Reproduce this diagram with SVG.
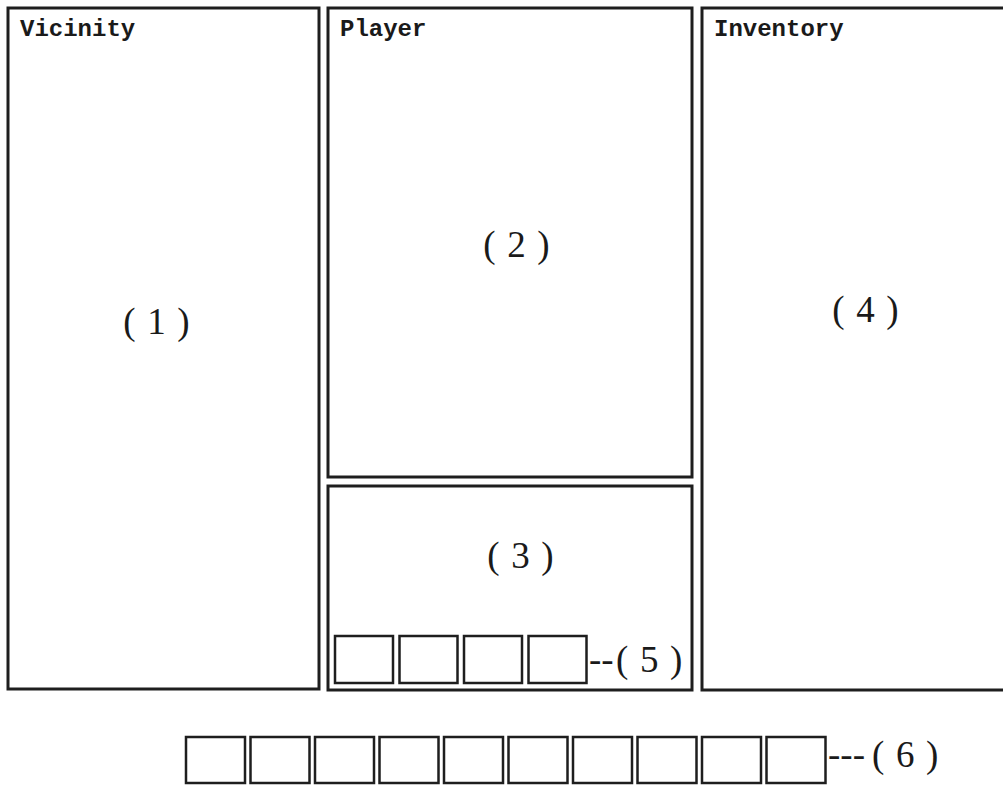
<svg xmlns="http://www.w3.org/2000/svg" width="1003" height="785" viewBox="0 0 1003 785">
<style>
.panel{fill:none;stroke:#1e1e1e;stroke-width:3}
.slot{fill:none;stroke:#1e1e1e;stroke-width:2.5}
.title{font-family:"Liberation Mono",monospace;font-weight:bold;font-size:24px;fill:#1a1a1a}
.num{font-family:"Liberation Serif",serif;font-size:37px;fill:#1a1a1a;letter-spacing:1.2px}
</style>
<rect x="0" y="0" width="1003" height="785" fill="#ffffff"/>
<g id="vicinity">
<rect class="panel" x="8" y="8" width="311" height="681"/>
<text class="title" x="20" y="36">Vicinity</text>
<text class="num" x="157" y="334" text-anchor="middle">( 1 )</text>
</g>
<g id="player">
<rect class="panel" x="328" y="8" width="364" height="469"/>
<text class="title" x="340" y="36">Player</text>
<text class="num" x="517" y="257" text-anchor="middle">( 2 )</text>
</g>
<g id="panel3">
<rect class="panel" x="328" y="486" width="364" height="204"/>
<text class="num" x="521" y="568" text-anchor="middle">( 3 )</text>
</g>
<g id="inventory">
<rect class="panel" x="702" y="8" width="320" height="682"/>
<text class="title" x="714" y="36">Inventory</text>
<text class="num" x="866" y="322" text-anchor="middle">( 4 )</text>
</g>
<g id="slots5">
<rect class="slot" x="335" y="636" width="58" height="47"/>
<rect class="slot" x="399.5" y="636" width="58" height="47"/>
<rect class="slot" x="464" y="636" width="58" height="47"/>
<rect class="slot" x="528.5" y="636" width="58" height="47"/>
<text class="num" x="589" y="672" style="letter-spacing:0">--<tspan x="616" style="letter-spacing:1.2px">( 5 )</tspan></text>
</g>
<g id="slots6">
<rect class="slot" x="186" y="737" width="59" height="46"/>
<rect class="slot" x="250.5" y="737" width="59" height="46"/>
<rect class="slot" x="315" y="737" width="59" height="46"/>
<rect class="slot" x="379.5" y="737" width="59" height="46"/>
<rect class="slot" x="444" y="737" width="59" height="46"/>
<rect class="slot" x="508.5" y="737" width="59" height="46"/>
<rect class="slot" x="573" y="737" width="59" height="46"/>
<rect class="slot" x="637.5" y="737" width="59" height="46"/>
<rect class="slot" x="702" y="737" width="59" height="46"/>
<rect class="slot" x="766.5" y="737" width="59" height="46"/>
<text class="num" x="828" y="767" style="letter-spacing:0">---<tspan x="872" style="letter-spacing:1.2px">( 6 )</tspan></text>
</g>
<g id="connectors"/>
</svg>
